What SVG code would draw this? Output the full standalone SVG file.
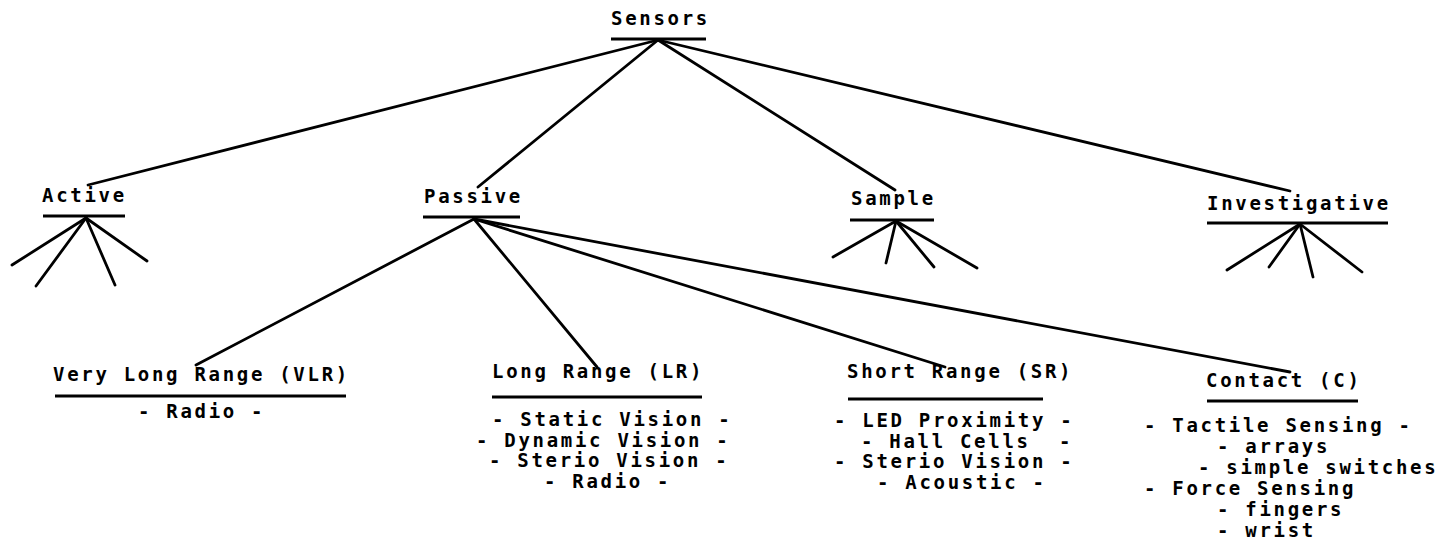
<svg xmlns="http://www.w3.org/2000/svg" width="1451" height="549" viewBox="0 0 1451 549">
<style>
text{font-family:"DejaVu Sans Mono","Liberation Mono",monospace;font-weight:bold;font-size:19px;letter-spacing:2.7px;fill:#000;white-space:pre}
.ul{stroke:#000;stroke-width:3;fill:none}
.c line{stroke:#000;stroke-width:2.8;stroke-linecap:round}
</style>
<rect width="1451" height="549" fill="#fff"/>
<g id="connectors" class="c">
<line x1="658" y1="40" x2="88" y2="185"/>
<line x1="658" y1="40" x2="478" y2="187"/>
<line x1="658" y1="40" x2="895" y2="190"/>
<line x1="658" y1="40" x2="1290" y2="191"/>
<line x1="86" y1="218" x2="12" y2="265"/>
<line x1="86" y1="218" x2="36" y2="286"/>
<line x1="86" y1="218" x2="115" y2="285"/>
<line x1="86" y1="218" x2="147" y2="261"/>
<line x1="474" y1="219" x2="196" y2="365"/>
<line x1="474" y1="219" x2="597" y2="367"/>
<line x1="474" y1="219" x2="945" y2="367"/>
<line x1="474" y1="219" x2="1290" y2="372"/>
<line x1="896" y1="221" x2="833" y2="257"/>
<line x1="896" y1="221" x2="886" y2="263"/>
<line x1="896" y1="221" x2="934" y2="267"/>
<line x1="896" y1="221" x2="977" y2="268"/>
<line x1="1300" y1="224" x2="1227" y2="270"/>
<line x1="1300" y1="224" x2="1269" y2="267"/>
<line x1="1300" y1="224" x2="1313" y2="277"/>
<line x1="1300" y1="224" x2="1362" y2="272"/>
</g>
<g id="sensors">
<text x="611" y="24.5">Sensors</text>
<line class="ul" x1="611" y1="39" x2="706" y2="39"/>
</g>
<g id="active">
<text x="42" y="202">Active</text>
<line class="ul" x1="43" y1="216" x2="125" y2="216"/>
</g>
<g id="passive">
<text x="424" y="203">Passive</text>
<line class="ul" x1="423" y1="217" x2="520" y2="217"/>
</g>
<g id="sample">
<text x="851" y="205">Sample</text>
<line class="ul" x1="850" y1="220" x2="934" y2="220"/>
</g>
<g id="investigative">
<text x="1207" y="210">Investigative</text>
<line class="ul" x1="1207" y1="223" x2="1388" y2="223"/>
</g>
<g id="vlr">
<text x="53" y="381">Very Long Range (VLR)</text>
<line class="ul" x1="55" y1="396" x2="346" y2="396"/>
<text x="138" y="418">- Radio -</text>
</g>
<g id="lr">
<text x="492" y="378">Long Range (LR)</text>
<line class="ul" x1="492" y1="397" x2="702" y2="397"/>
<text x="492" y="426">- Static Vision -</text>
<text x="476" y="446.5">- Dynamic Vision -</text>
<text x="489" y="467">- Sterio Vision -</text>
<text x="544" y="487.5">- Radio -</text>
</g>
<g id="sr">
<text x="847" y="378">Short Range (SR)</text>
<line class="ul" x1="848" y1="399" x2="1043" y2="399"/>
<text x="834" y="427">- LED Proximity -</text>
<text x="861" y="447.5" xml:space="preserve">- Hall Cells  -</text>
<text x="834" y="468">- Sterio Vision -</text>
<text x="877" y="488.5">- Acoustic -</text>
</g>
<g id="contact">
<text x="1206" y="387">Contact (C)</text>
<line class="ul" x1="1207" y1="401" x2="1358" y2="401"/>
<text x="1144" y="432">- Tactile Sensing -</text>
<text x="1217" y="453">- arrays</text>
<text x="1198" y="474">- simple switches</text>
<text x="1144" y="495">- Force Sensing</text>
<text x="1217" y="516">- fingers</text>
<text x="1217" y="537">- wrist</text>
</g>
</svg>
